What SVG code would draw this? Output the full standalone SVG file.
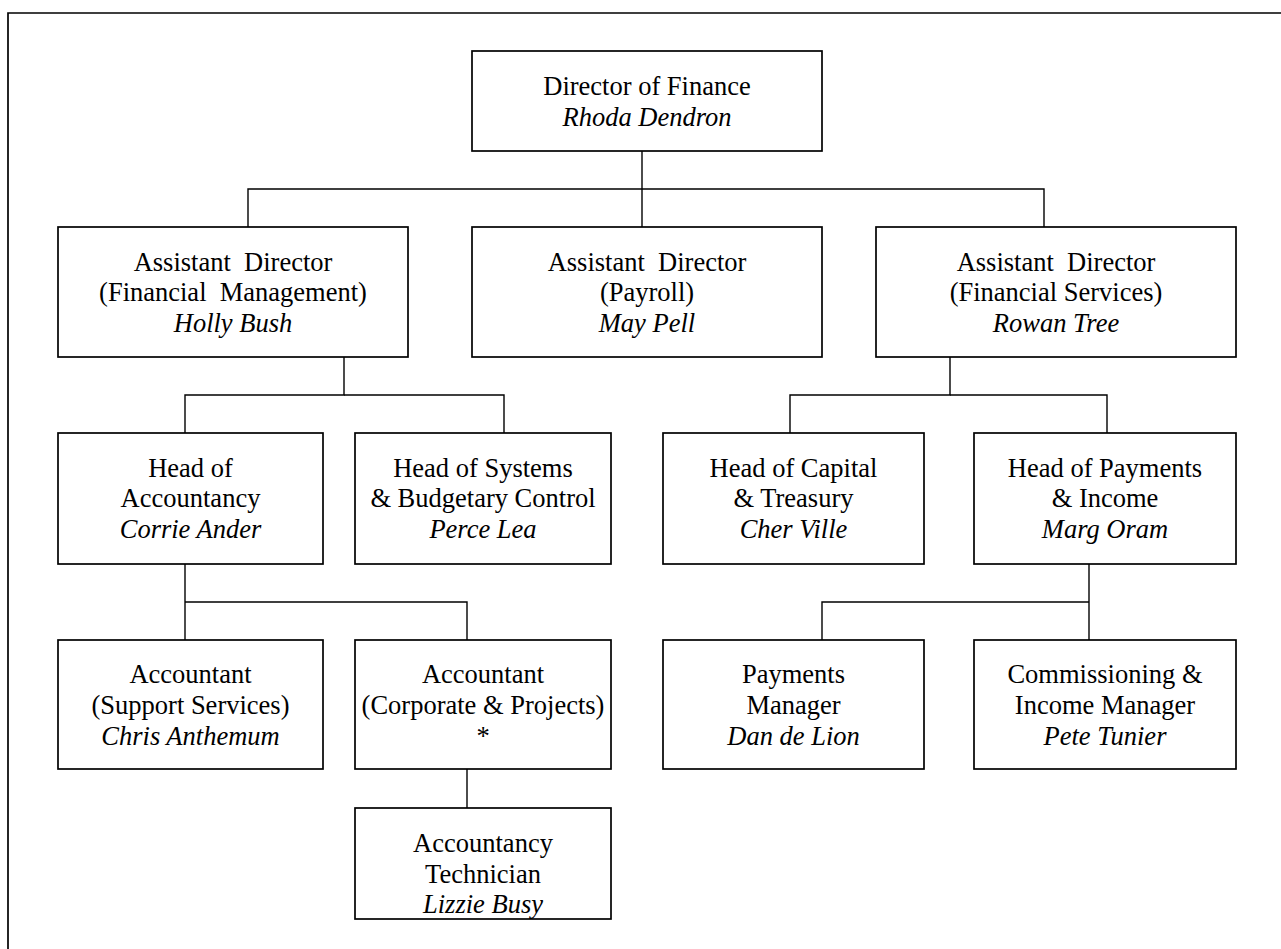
<svg xmlns="http://www.w3.org/2000/svg" width="1281" height="949" viewBox="0 0 1281 949">
<style>
.box{fill:#fff;stroke:#000;stroke-width:1.7}
.frame{fill:none;stroke:#000;stroke-width:1.7}
.conn{fill:none;stroke:#000;stroke-width:1.4}
text{font-family:"Liberation Serif","Times New Roman",serif;font-size:26.5px;fill:#000;text-anchor:middle;white-space:pre}
.n{font-style:italic}
</style>
<rect width="1281" height="949" fill="#fff"/>
<path class="frame" d="M8,949 V13 H1281"/>
<g id="connectors">
<path class="conn" d="M642,151 V227"/>
<path class="conn" d="M248,227 V189 H1044 V227"/>
<path class="conn" d="M344,357 V395 H185 V433"/>
<path class="conn" d="M344,395 H504 V433"/>
<path class="conn" d="M950,357 V395 H790 V433"/>
<path class="conn" d="M950,395 H1107 V433"/>
<path class="conn" d="M185,564 V640"/>
<path class="conn" d="M185,602 H467 V640"/>
<path class="conn" d="M467,769 V808"/>
<path class="conn" d="M1089,564 V640"/>
<path class="conn" d="M1089,602 H822 V640"/>
</g>
<g id="director">
<rect class="box" x="472" y="51" width="350" height="100"/>
<text x="647" y="95">Director of Finance</text>
<text class="n" x="647" y="125.7">Rhoda Dendron</text>
</g>
<g id="ad-fm">
<rect class="box" x="58" y="227" width="350" height="130"/>
<text x="233" y="270.7">Assistant  Director</text>
<text x="233" y="301.2">(Financial  Management)</text>
<text class="n" x="233" y="331.7">Holly Bush</text>
</g>
<g id="ad-payroll">
<rect class="box" x="472" y="227" width="350" height="130"/>
<text x="647" y="270.7">Assistant  Director</text>
<text x="647" y="301.2">(Payroll)</text>
<text class="n" x="647" y="331.7">May Pell</text>
</g>
<g id="ad-fs">
<rect class="box" x="876" y="227" width="360" height="130"/>
<text x="1056" y="270.7">Assistant  Director</text>
<text x="1056" y="301.2">(Financial Services)</text>
<text class="n" x="1056" y="331.7">Rowan Tree</text>
</g>
<g id="head-accountancy">
<rect class="box" x="58" y="433" width="265" height="131"/>
<text x="190.5" y="476.7">Head of</text>
<text x="190.5" y="507.3">Accountancy</text>
<text class="n" x="190.5" y="537.5">Corrie Ander</text>
</g>
<g id="head-systems">
<rect class="box" x="355" y="433" width="256" height="131"/>
<text x="483" y="476.7">Head of Systems</text>
<text x="483" y="507.3">&amp; Budgetary Control</text>
<text class="n" x="483" y="537.5">Perce Lea</text>
</g>
<g id="head-capital">
<rect class="box" x="663" y="433" width="261" height="131"/>
<text x="793.5" y="476.7">Head of Capital</text>
<text x="793.5" y="507.3">&amp; Treasury</text>
<text class="n" x="793.5" y="537.5">Cher Ville</text>
</g>
<g id="head-payments">
<rect class="box" x="974" y="433" width="262" height="131"/>
<text x="1105" y="476.7">Head of Payments</text>
<text x="1105" y="507.3">&amp; Income</text>
<text class="n" x="1105" y="537.5">Marg Oram</text>
</g>
<g id="acc-support">
<rect class="box" x="58" y="640" width="265" height="129"/>
<text x="190.5" y="683.3">Accountant</text>
<text x="190.5" y="714">(Support Services)</text>
<text class="n" x="190.5" y="744.5">Chris Anthemum</text>
</g>
<g id="acc-corporate">
<rect class="box" x="355" y="640" width="256" height="129"/>
<text x="483" y="683.3">Accountant</text>
<text x="483" y="714">(Corporate &amp; Projects)</text>
<text x="483" y="744.5">*</text>
</g>
<g id="acc-technician">
<rect class="box" x="355" y="808" width="256" height="111"/>
<text x="483" y="852">Accountancy</text>
<text x="483" y="882.5">Technician</text>
<text class="n" x="483" y="913">Lizzie Busy</text>
</g>
<g id="payments-manager">
<rect class="box" x="663" y="640" width="261" height="129"/>
<text x="793.5" y="683.3">Payments</text>
<text x="793.5" y="714">Manager</text>
<text class="n" x="793.5" y="744.5">Dan de Lion</text>
</g>
<g id="commissioning-manager">
<rect class="box" x="974" y="640" width="262" height="129"/>
<text x="1105" y="683.3">Commissioning &amp;</text>
<text x="1105" y="714">Income Manager</text>
<text class="n" x="1105" y="744.5">Pete Tunier</text>
</g>
</svg>
